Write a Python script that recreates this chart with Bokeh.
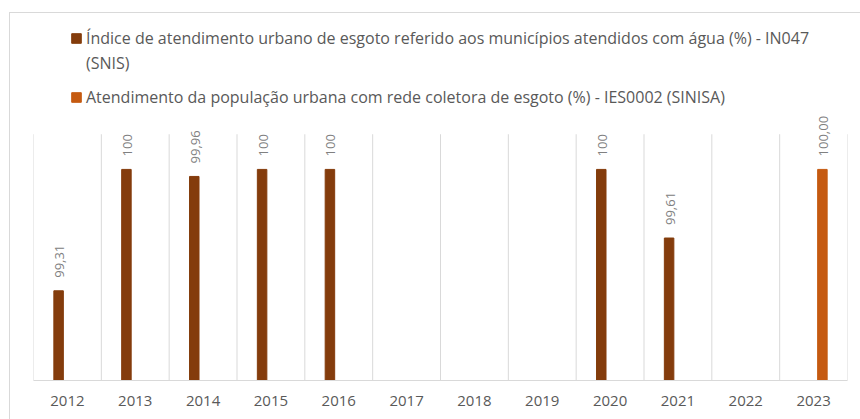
import math
from bokeh.plotting import figure
from bokeh.models import ColumnDataSource, Legend, LegendItem, FixedTicker, LabelSet
from bokeh.core.properties import value
from bokeh.transform import dodge
from bokeh.embed import file_html
from bokeh.resources import INLINE

# ---- data ----
years = [2012, 2013, 2014, 2015, 2016, 2017, 2018, 2019, 2020, 2021, 2022, 2023]
year_labels = ["2012", "2013", "2014", "2015", "2016", "2017", "2018", "2019",
               "2020", "2021", "2022", "2023"]
snis_years = [2012, 2013, 2014, 2015, 2016, 2020, 2021]
snis_values = [99.31, 100, 99.96, 100, 100, 100, 99.61]
snis_labels = ["99,31", "100", "99,96", "100", "100", "100", "99,61"]
sinisa_years = [2023]
sinisa_values = [100.00]
sinisa_labels = ["100,00"]
series_names = [
    "Índice de atendimento urbano de esgoto referido aos municípios atendidos com água (%) - IN047",
    "(SNIS)",
    "Atendimento da população urbana com rede coletora de esgoto (%) - IES0002 (SINISA)",
]
colors = ["#843C0C", "#C55A11"]
y_min, y_axis_max = 98.8, 100.2   # value axis of the plot area
y_view_max = 100.875              # extra room above the plot area for the legend

FONT = "Open Sans"
GRID = "#d9d9d9"
TEXT = "#595959"

p = figure(width=851, height=407, x_range=(years[0] - 0.5, years[-1] + 0.5),
           y_range=(y_min, y_view_max), output_backend="svg", toolbar_location=None,
           min_border_left=23, min_border_right=14, min_border_top=2,
           min_border_bottom=40)
p.margin = (12, 0, 0, 9)
p.styles = {"border-left": "1px solid #d9d9d9", "border-top": "1px solid #d9d9d9"}
p.outline_line_color = None
p.background_fill_color = "white"
p.border_fill_color = "white"

# vertical gridlines between categories, only over the plot area
bounds = [y - 0.5 for y in years] + [years[-1] + 0.5]
p.segment(x0=bounds, x1=bounds, y0=[y_min] * len(bounds), y1=[y_axis_max] * len(bounds),
          line_color=GRID, line_width=1)

src1 = ColumnDataSource(dict(year=snis_years, value=snis_values, label=snis_labels))
src2 = ColumnDataSource(dict(year=sinisa_years, value=sinisa_values, label=sinisa_labels))

off = 0.13
r1 = p.vbar(x=dodge("year", -off, range=p.x_range), top="value", bottom=y_min,
            width=0.14, source=src1, fill_color=colors[0], line_color=colors[0])
r2 = p.vbar(x=dodge("year", off, range=p.x_range), top="value", bottom=y_min,
            width=0.14, source=src2, fill_color=colors[1], line_color=colors[1])
# invisible renderer used only for the wrapped second line of the first legend entry
r_blank = p.vbar(x=[], top=[], width=0.14, fill_alpha=0, line_alpha=0)

for src, dx in ((src1, -off), (src2, off)):
    ls = LabelSet(x=dodge("year", dx, range=p.x_range), y="value", text="label",
                  source=src, angle=math.pi / 2, text_align="left",
                  text_baseline="middle", y_offset=13, x_offset=1,
                  text_font=value(FONT), text_font_size="13px", text_color="#808080")
    p.add_layout(ls)

# axes
p.yaxis.visible = False
p.grid.visible = False
p.xaxis.ticker = FixedTicker(ticks=years)
p.xaxis.major_label_overrides = {y: l for y, l in zip(years, year_labels)}
p.xaxis.axis_line_color = GRID
p.xaxis.major_tick_line_color = None
p.xaxis.minor_tick_line_color = None
p.xaxis.major_label_standoff = 9
p.xaxis.major_label_text_font = FONT
p.xaxis.major_label_text_font_size = "15px"
p.xaxis.major_label_text_color = TEXT

legend_style = dict(glyph_width=12, glyph_height=12, label_standoff=4, padding=0,
                    margin=0, border_line_color=None, background_fill_alpha=0,
                    label_text_font=FONT, label_text_font_size="16px",
                    label_height=20, label_text_color=TEXT)
legend_a = Legend(items=[LegendItem(label=series_names[0], renderers=[r1]),
                         LegendItem(label=series_names[1], renderers=[r_blank])],
                  location=(37, 306), spacing=3, **legend_style)
legend_b = Legend(items=[LegendItem(label=series_names[2], renderers=[r2])],
                  location=(37, 272), spacing=0, **legend_style)
p.add_layout(legend_a, "center")
p.add_layout(legend_b, "center")

open("out.html", "w").write(file_html(p, INLINE))
